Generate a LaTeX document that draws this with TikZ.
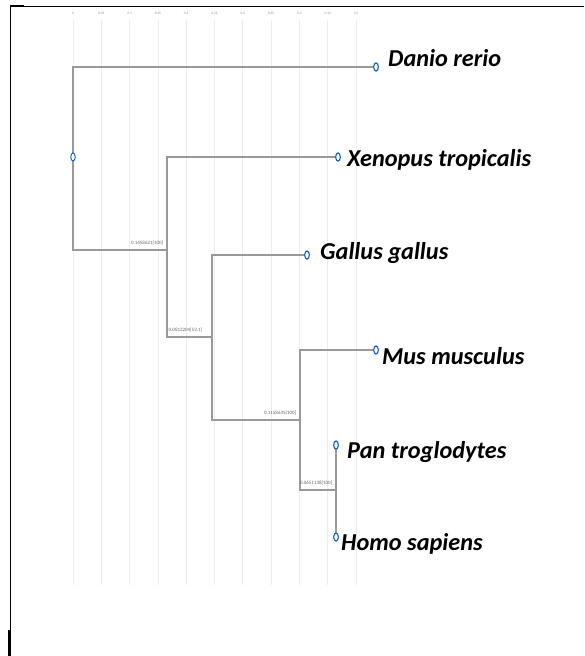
\documentclass[tikz,border=0pt]{standalone}
\usepackage{fontspec}
\setmainfont{Carlito}
\usetikzlibrary{shapes.geometric}
\begin{document}
\begin{tikzpicture}[x=1pt,y=-1pt,
  branch/.style={draw=black!40,line width=2.8pt},
  tip/.style={ellipse,draw=blue!60!cyan!80!black,fill=white,line width=0.9pt,inner sep=0pt,minimum width=4.5pt,minimum height=8pt},
  taxon/.style={anchor=base west,font=\fontsize{24.3}{26}\selectfont\bfseries\itshape,inner sep=0pt},
  blab/.style={font=\fontsize{5}{6}\selectfont,text=black!60,inner sep=0.5pt},
  tick/.style={font=\fontsize{3.5}{4}\selectfont,text=black!45,inner sep=0pt},
  grid/.style={draw=black!7,line width=0.8pt}]
\useasboundingbox (0,0) rectangle (584,656);
% frame
\draw[line width=1pt] (10,6) -- (584,6);
\draw[line width=1pt] (10,6) -- (10,656);
\draw[line width=2pt] (10,6) -- (24,6);
\draw[line width=2.2pt] (9.5,630) -- (9.5,656);
% grid and axis
\foreach \i/\l in {0/0,1/0.05,2/0.1,3/0.15,4/0.2,5/0.25,6/0.3,7/0.35,8/0.4,9/0.45,10/0.5}{
  \pgfmathsetmacro{\xx}{73+28.3*\i}
  \draw[grid] (\xx,20) -- (\xx,585);
  \node[tick] (t\i) at (\xx,13) {\l};
}
% internal nodes
\coordinate (root) at (73,157);
\coordinate (n1) at (167,250);
\coordinate (n2) at (212,337);
\coordinate (n3) at (300,420);
\coordinate (n4) at (336,490);
% tips
\node[tip] (dr) at (376,67) {};
\node[tip] (xt) at (338,157) {};
\node[tip] (gg) at (307,255) {};
\node[tip] (mm) at (376,350) {};
\node[tip] (pt) at (336,445) {};
\node[tip] (hs) at (336,537) {};
% branches
\draw[branch] (dr.west) -- (73,67) -- (73,250) -- (n1);
\draw[branch] (xt.west) -- (167,157) -- (167,337) -- (n2);
\draw[branch] (gg.west) -- (212,255) -- (212,420) -- (n3);
\draw[branch] (mm.west) -- (300,350) -- (300,490) -- (n4);
\draw[branch] (pt.south) -- (n4) -- (hs.north);
\node[tip] (rootc) at (root) {};
\node[tip] at (dr) {};
\node[tip] at (xt) {};
\node[tip] at (gg) {};
\node[tip] at (mm) {};
\node[tip] at (pt) {};
\node[tip] at (hs) {};
% branch labels
\node[blab,anchor=south east] (b1) at (164,246) {0.1458621[100]};
\node[blab,anchor=south west] (b2) at (168,333) {0.0812204[53.1]};
\node[blab,anchor=south east] (b3) at (297,416) {0.1158635[100]};
\node[blab,anchor=south east] (b4) at (333,486) {0.0651138[100]};
% taxon labels
\node[taxon] (ldr) at (388,66) {Danio rerio};
\node[taxon] (lxt) at (347,166) {Xenopus tropicalis};
\node[taxon] (lgg) at (320,259) {Gallus gallus};
\node[taxon] (lmm) at (382,364) {Mus musculus};
\node[taxon] (lpt) at (347,458) {Pan troglodytes};
\node[taxon] (lhs) at (341,550) {Homo sapiens};
\end{tikzpicture}
\end{document}
